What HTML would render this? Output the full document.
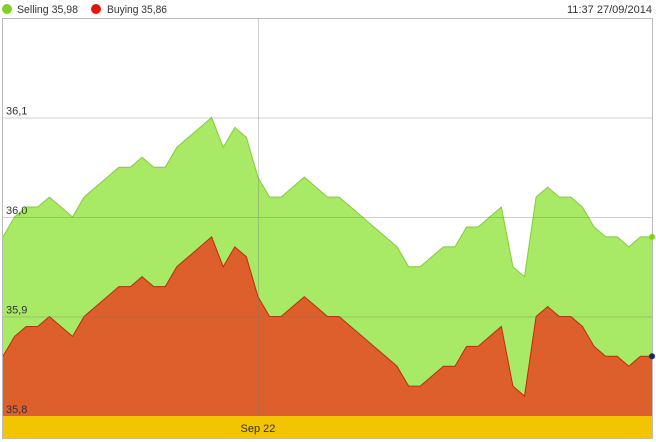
<!DOCTYPE html>
<html><head><meta charset="utf-8"><style>
body{margin:0;background:#fff;width:656px;height:442px;overflow:hidden;font-family:"Liberation Sans",sans-serif}
svg{display:block}
text{font-family:"Liberation Sans",sans-serif;font-size:11px;fill:#333}
</style></head><body>
<svg id="chart" width="656" height="442">
  <g>
    <circle cx="7" cy="9" r="5" fill="#7ed321"/>
    <text x="17" y="13" textLength="61" lengthAdjust="spacingAndGlyphs">Selling 35,98</text>
    <circle cx="96" cy="9" r="5" fill="#e8120c"/>
    <text x="107" y="13" textLength="60" lengthAdjust="spacingAndGlyphs">Buying 35,86</text>
  </g>
  <text x="652" y="13" text-anchor="end" textLength="85" lengthAdjust="spacingAndGlyphs">11:37 27/09/2014</text>
  <g id="plot"></g>
</svg>
<script>
const categories = Array.from({length:57},(_,i)=>i);
const selling = [35.98,36.00,36.01,36.01,36.02,36.01,36.00,36.02,36.03,36.04,36.05,36.05,36.06,36.05,36.05,36.07,36.08,36.09,36.10,36.07,36.09,36.08,36.04,36.02,36.02,36.03,36.04,36.03,36.02,36.02,36.01,36.00,35.99,35.98,35.97,35.95,35.95,35.96,35.97,35.97,35.99,35.99,36.00,36.01,35.95,35.94,36.02,36.03,36.02,36.02,36.01,35.99,35.98,35.98,35.97,35.98,35.98];
const buying = [35.86,35.88,35.89,35.89,35.90,35.89,35.88,35.90,35.91,35.92,35.93,35.93,35.94,35.93,35.93,35.95,35.96,35.97,35.98,35.95,35.97,35.96,35.92,35.90,35.90,35.91,35.92,35.91,35.90,35.90,35.89,35.88,35.87,35.86,35.85,35.83,35.83,35.84,35.85,35.85,35.87,35.87,35.88,35.89,35.83,35.82,35.90,35.91,35.90,35.90,35.89,35.87,35.86,35.86,35.85,35.86,35.86];
const yTicks = [35.8,35.9,36.0,36.1];
const yTickLabels = ["35,8","35,9","36,0","36,1"];
const xLabel = "Sep 22";
const xLabelIndex = 22;

const L=3,R=652,T=18,B=416,NS="http://www.w3.org/2000/svg";
const x=i=>L+(R-L)*i/(categories.length-1);
const y=v=>B-(v-35.8)/0.1*99.5;
const g=document.getElementById('plot');
function mk(t,a){const e=document.createElementNS(NS,t);for(const k in a)e.setAttribute(k,a[k]);g.appendChild(e);return e;}

const frame=mk('rect',{x:L-0.5,y:T+0.5,width:R-L+1,height:B-T+22,fill:'none',stroke:'#bbb'});



function area(vals,fill,stroke,name){
  let d='M'+x(0)+','+B;
  vals.forEach((v,i)=>d+=' L'+x(i)+','+y(v));
  d+=' L'+x(vals.length-1)+','+B+' Z';
  const a=mk('path',{d:d,fill:fill});
  
  
  const l=mk('polyline',{points:vals.map((v,i)=>x(i)+','+y(v)).join(' '),fill:'none',stroke:stroke,'stroke-width':1});
  
  
}
area(selling,'#a8e965','#7ed321','selling');
area(buying,'#dd5f2b','#d6200c','buying');

yTicks.forEach((t,i)=>{
  const ln=mk('line',{x1:L,x2:R,y1:y(t)+0.5,y2:y(t)+0.5,stroke:'rgba(120,120,120,0.35)'});
  
  
  const tx=mk('text',{x:6,y:y(t)-3});
  tx.textContent=yTickLabels[i];
  
  
});
const vl=mk('line',{x1:x(xLabelIndex)+0.5,x2:x(xLabelIndex)+0.5,y1:T,y2:B,stroke:'rgba(120,120,120,0.35)'});



const bar=mk('rect',{x:L,y:B,width:R-L,height:22,fill:'#f3c400'});


const xl=mk('text',{x:x(xLabelIndex),y:B+16,'text-anchor':'middle'});
xl.textContent=xLabel;



const d1=mk('circle',{cx:R,cy:y(selling[selling.length-1]),r:3,fill:'#7ed321'});


const d2=mk('circle',{cx:R,cy:y(buying[buying.length-1]),r:3,fill:'#1a2a5a'});


</script>
</body></html>
